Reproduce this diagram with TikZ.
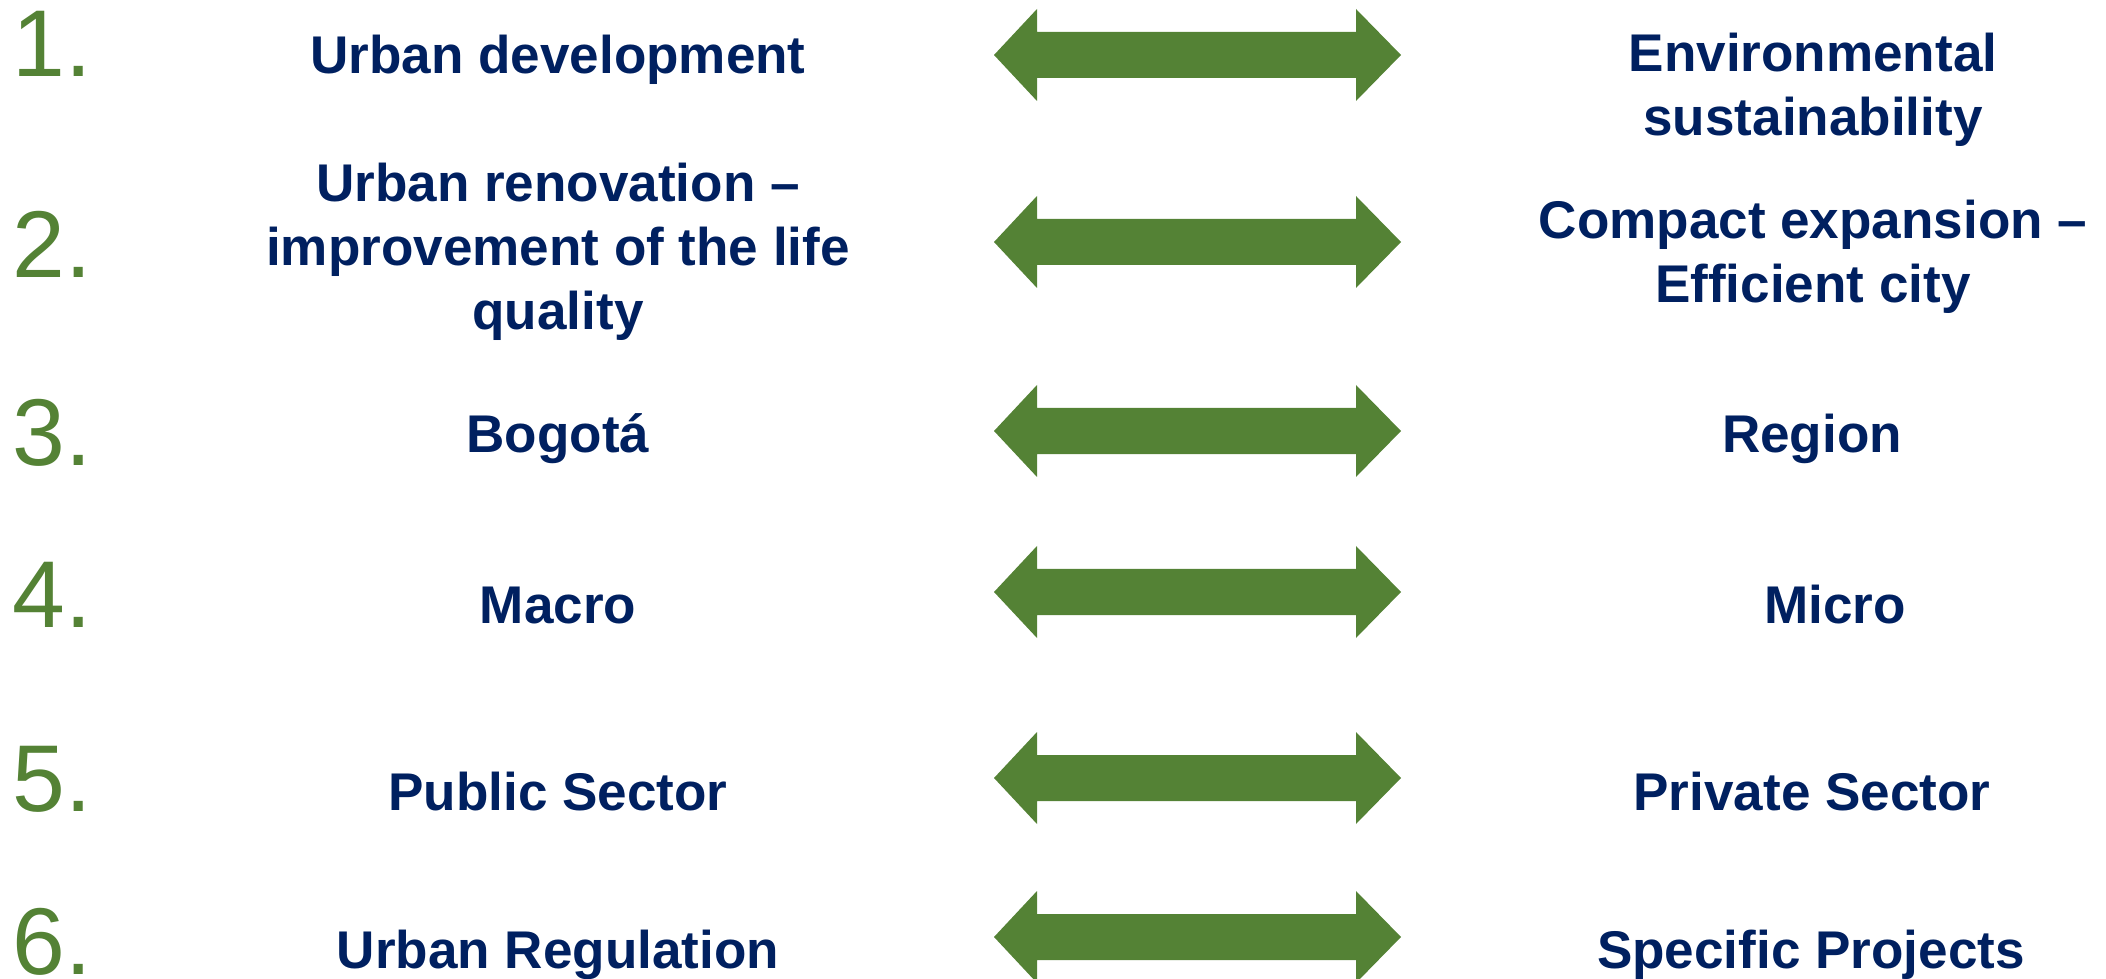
\documentclass[tikz,border=0pt]{standalone}
\usepackage{fontspec}
\setmainfont{Liberation Sans}
\definecolor{navy}{HTML}{002060}
\definecolor{leafgreen}{HTML}{548235}
\tikzset{
	lbl/.style={text=navy,font=\bfseries\fontsize{15.1}{18.2}\selectfont,align=center,inner sep=0pt},
	num/.style={text=leafgreen,font=\fontsize{27}{30}\selectfont,anchor=base west,inner sep=0pt},
	dblarrow/.style={fill=leafgreen}
}

\begin{document}
\begin{tikzpicture}
	\useasboundingbox (0,0) rectangle (21.06,-9.79);
	% numbers
	\foreach \i/\y in {1/0.77,2/2.78,3/4.66,4/6.27,5/8.11,6/9.74}
		\node[num] (n\i) at (0.12,-\y) {\i.};
	% double arrows
	\foreach \y in {0.55,2.42,4.31,5.92,7.78,9.37}
		\fill[dblarrow] (9.94,-\y) -- ++(0.43,0.46) -- ++(0,-0.23) -- ++(3.19,0) -- ++(0,0.23) -- (14.01,-\y) -- ++(-0.45,-0.46) -- ++(0,0.23) -- ++(-3.19,0) -- ++(0,-0.23) -- cycle;
	% left column
	\node[lbl,anchor=base] (l1) at (5.58,-0.74) {Urban development};
	\node[lbl,anchor=north] (l2) at (5.58,-1.62) {Urban renovation –\\improvement of the life\\quality};
	\node[lbl,anchor=base] (l3) at (5.58,-4.52) {Bogotá};
	\node[lbl,anchor=base] (l4) at (5.58,-6.23) {Macro};
	\node[lbl,anchor=base] (l5) at (5.58,-8.10) {Public Sector};
	\node[lbl,anchor=base] (l6) at (5.58,-9.68) {Urban Regulation};
	% right column
	\node[lbl,anchor=north] (r1) at (18.13,-0.32) {Environmental\\sustainability};
	\node[lbl,anchor=north] (r2) at (18.13,-1.99) {Compact expansion –\\Efficient city};
	\node[lbl,anchor=base] (r3) at (18.12,-4.52) {Region};
	\node[lbl,anchor=base] (r4) at (18.35,-6.23) {Micro};
	\node[lbl,anchor=base] (r5) at (18.12,-8.10) {Private Sector};
	\node[lbl,anchor=base] (r6) at (18.11,-9.68) {Specific Projects};
\end{tikzpicture}
\end{document}
